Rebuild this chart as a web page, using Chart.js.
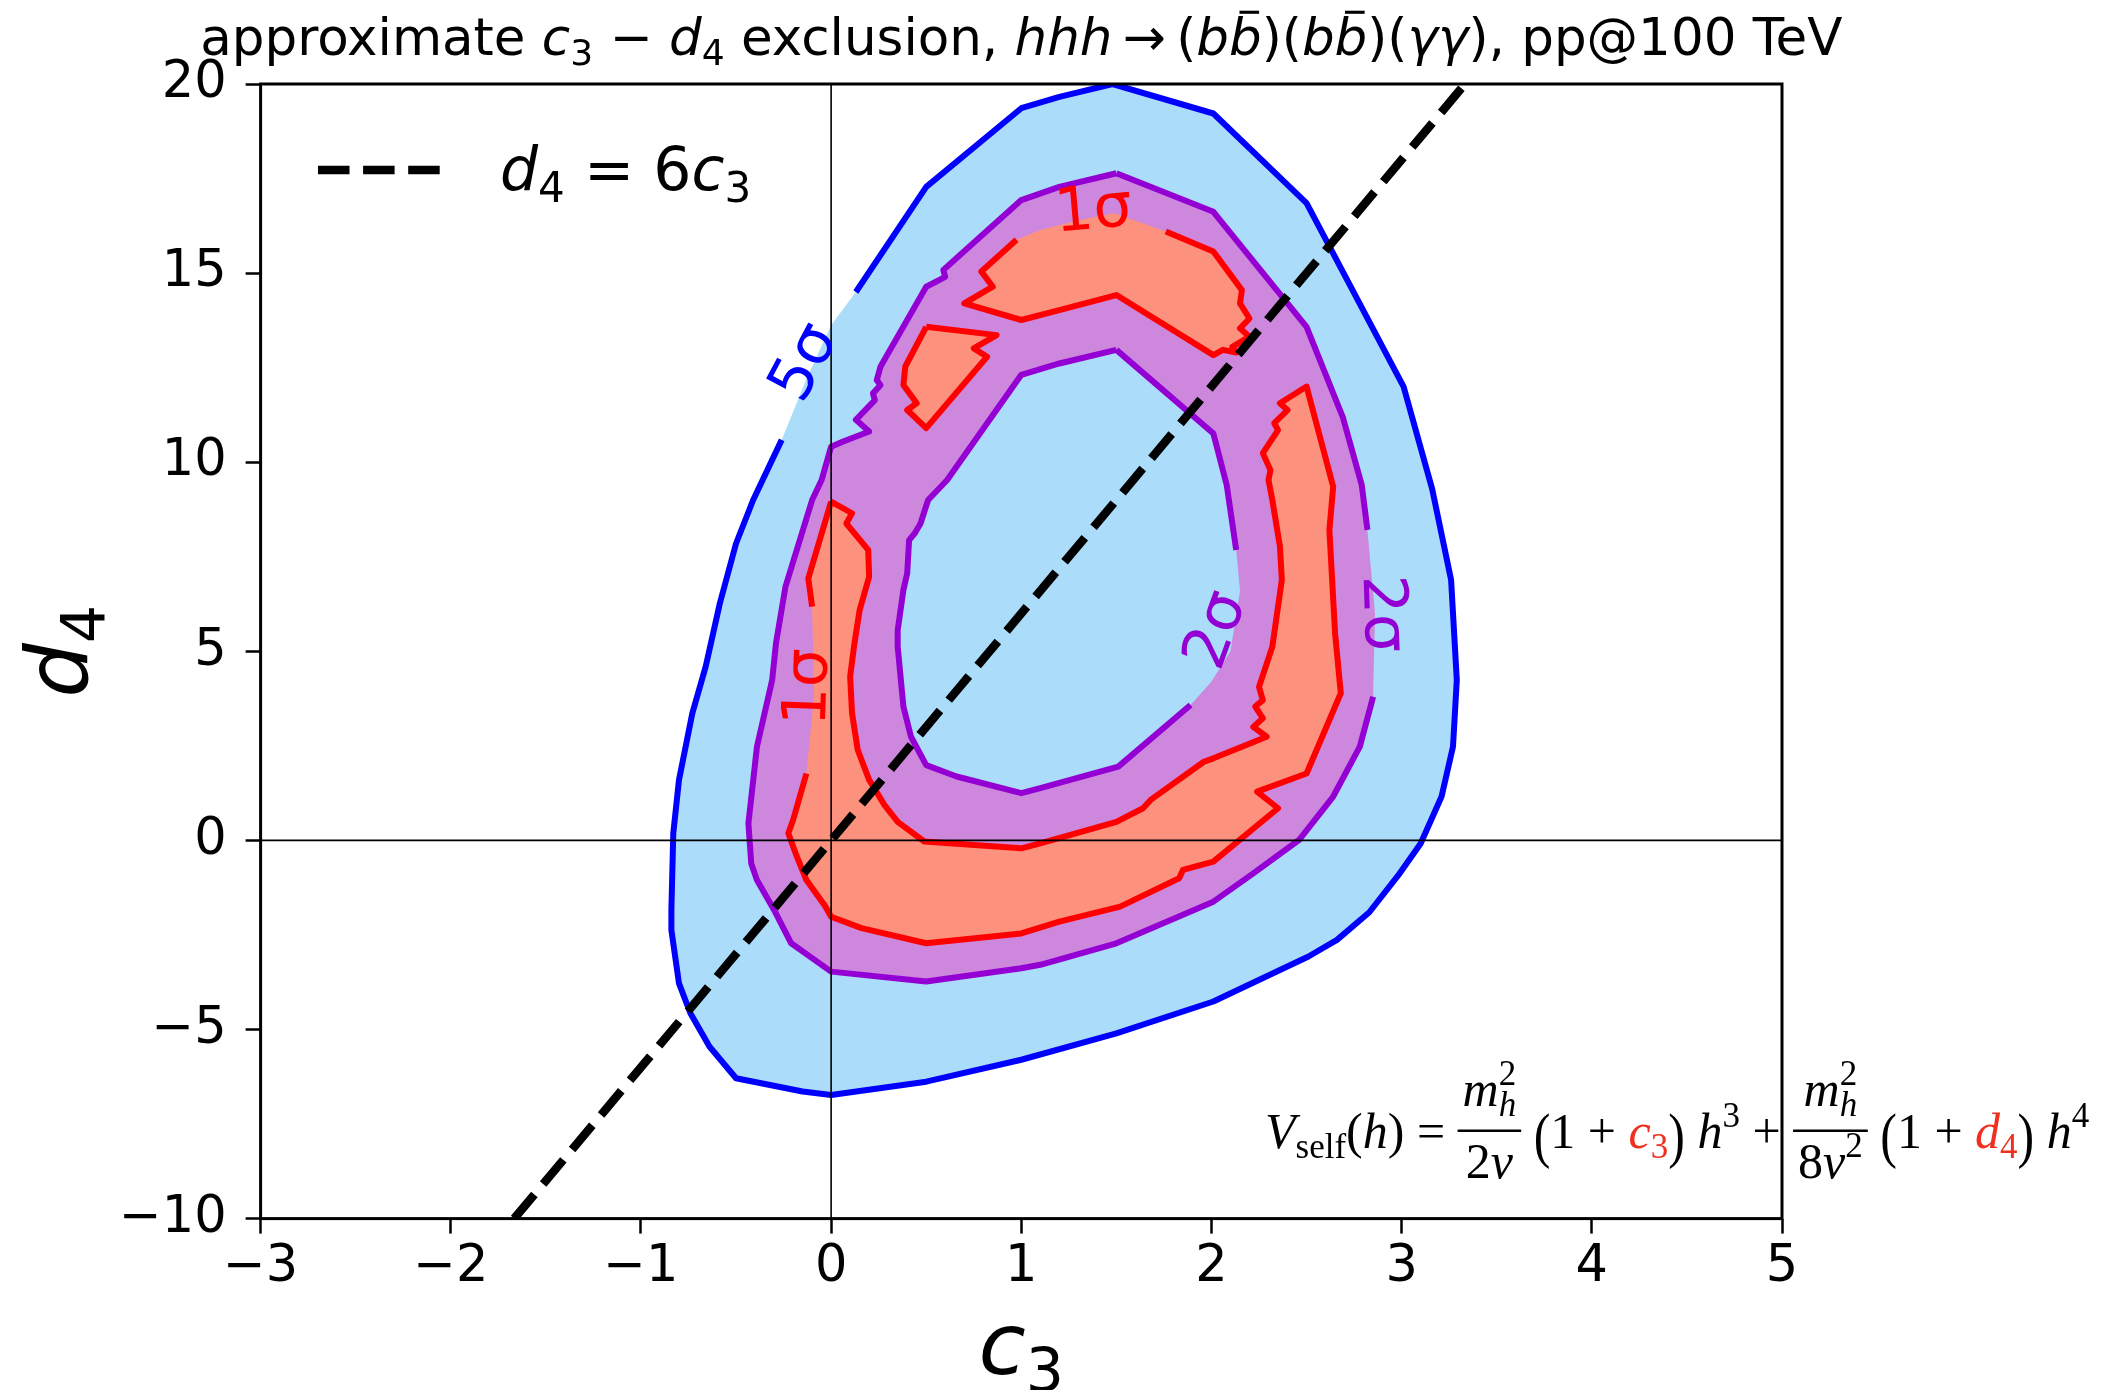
<!DOCTYPE html>
<html>
<head>
<meta charset="utf-8">
<title>c3 - d4 exclusion</title>
<script src="https://cdn.jsdelivr.net/npm/chart.js@4.4.1/dist/chart.umd.min.js"></script>
<style>
  html, body { margin: 0; padding: 0; background: #fff; }
  canvas { display: block; }
</style>
</head>
<body>
<canvas id="chart" width="2128" height="1390"></canvas>
<script>
// axis ticks
const c3Ticks = [-3, -2, -1, 0, 1, 2, 3, 4, 5];
const d4Ticks = [-10, -5, 0, 5, 10, 15, 20];

// 5 sigma contour (closed, starts at the top)
const sig5C3 = [1.48, 2.01, 2.50, 3.01, 3.16, 3.26, 3.29, 3.27, 3.21, 3.10,
                2.99, 2.83, 2.66, 2.51, 2.01, 1.50, 1.00, 0.50, 0.00, -0.15,
                -0.50, -0.64, -0.74, -0.80, -0.84, -0.84, -0.83, -0.80, -0.73, -0.66,
                -0.585, -0.50, -0.41, -0.26, -0.13, 0.00, 0.13, 0.50, 1.00, 1.20,
                1.48];
const sig5D4 = [20.0, 19.22, 16.85, 12.00, 9.30, 6.89, 4.24, 2.48, 1.16, -0.08,
                -0.87, -1.90, -2.63, -3.07, -4.26, -5.10, -5.80, -6.38, -6.73, -6.64,
                -6.29, -5.45, -4.57, -3.78, -2.37, -1.84, 0.19, 1.60, 3.36, 4.59,
                6.27, 7.85, 9.00, 10.59, 12.20, 13.62, 14.50, 17.28, 19.36, 19.66,
                20.0];

// 2 sigma contour, outer boundary
const sig2C3 = [1.50, 2.01, 2.50, 2.69, 2.79, 2.82, 2.86, 2.85, 2.78, 2.64,
                2.46, 2.22, 2.01, 1.50, 1.10, 1.00, 0.50, 0.00, -0.21, -0.30,
                -0.39, -0.42, -0.435, -0.39, -0.31, -0.29, -0.24, -0.10, -0.05, 0.00,
                0.06, 0.20, 0.13, 0.23, 0.22, 0.26, 0.24, 0.26, 0.50, 0.60,
                0.59, 1.00, 1.20, 1.50];
const sig2D4 = [17.64, 16.62, 13.58, 11.20, 9.40, 8.21, 6.00, 3.80, 2.48, 1.16,
                0.01, -0.87, -1.62, -2.72, -3.29, -3.38, -3.73, -3.47, -2.72, -1.84,
                -1.05, -0.61, 0.45, 2.48, 4.24, 5.21, 6.71, 9.00, 9.53, 10.41,
                10.54, 10.81, 11.12, 11.64, 11.82, 12.04, 12.17, 12.53, 14.64, 14.90,
                15.08, 16.93, 17.28, 17.64];

// 2 sigma contour, inner boundary
const holeC3 = [1.50, 2.01, 2.08, 2.13, 2.15, 2.10, 2.00, 1.89, 1.51, 1.10,
                1.00, 0.66, 0.50, 0.42, 0.38, 0.35, 0.35, 0.38, 0.40, 0.41,
                0.44, 0.47, 0.51, 0.61, 1.00, 1.20, 1.50];
const holeD4 = [12.97, 10.76, 9.40, 7.68, 6.60, 5.00, 4.20, 3.58, 1.95, 1.38,
                1.25, 1.69, 1.99, 2.74, 3.54, 5.12, 5.56, 6.62, 7.06, 7.94,
                8.12, 8.38, 9.00, 9.53, 12.31, 12.61, 12.97];

// 1 sigma: the large open ring (left, bottom and right arms)
const ringC3 = [0.00, -0.12, -0.10, -0.095, -0.09, -0.12, -0.13, -0.20, -0.225, -0.18,
                -0.13, -0.03, 0.00, 0.16, 0.50, 1.00, 1.20, 1.52, 1.83, 1.85,
                2.01, 2.35, 2.24, 2.50, 2.68, 2.65, 2.62, 2.64, 2.50, 2.36,
                2.40, 2.33, 2.35, 2.27, 2.31, 2.30, 2.32, 2.36, 2.37, 2.32,
                2.25, 2.27, 2.23, 2.27, 2.22, 2.29, 2.01, 1.96, 1.68, 1.64,
                1.50, 1.10, 1.00, 0.49, 0.35, 0.28, 0.20, 0.14, 0.11, 0.10,
                0.12, 0.15, 0.20, 0.195, 0.08, 0.11, 0.00];
const ringD4 = [8.96, 6.93, 6.18, 5.12, 3.80, 2.30, 1.77, 0.54, 0.19, -0.43,
                -1.05, -1.75, -2.02, -2.32, -2.72, -2.46, -2.15, -1.75, -1.00, -0.78,
                -0.56, 0.85, 1.29, 1.77, 3.89, 5.47, 8.21, 9.35, 12.00, 11.56,
                11.38, 11.03, 10.85, 10.24, 9.79, 9.53, 9.00, 7.77, 6.89, 5.12,
                4.06, 3.71, 3.54, 3.23, 3.00, 2.74, 2.17, 2.08, 1.07, 0.85,
                0.49, -0.08, -0.21, -0.03, 0.49, 0.94, 1.60, 2.39, 3.36, 4.33,
                5.12, 6.09, 6.97, 7.68, 8.38, 8.65, 8.96];

// 1 sigma: upper arc
const arcC3 = [0.975, 1.10, 1.30, 1.49, 1.76, 2.01, 2.16, 2.15, 2.20, 2.15,
               2.20, 2.11, 2.13, 2.06, 2.01, 1.50, 1.20, 1.00, 0.70, 0.85,
               0.79, 0.975];
const arcD4 = [15.88, 16.14, 16.40, 16.58, 16.10, 15.57, 14.55, 14.20, 13.80, 13.54,
               13.32, 13.05, 12.90, 12.97, 12.83, 14.42, 14.02, 13.76, 14.20, 14.64,
               15.04, 15.88];

// 1 sigma: small island
const isleC3 = [0.50, 0.87, 0.75, 0.82, 0.50, 0.40, 0.45, 0.38, 0.39, 0.50];
const isleD4 = [13.58, 13.36, 13.01, 12.79, 10.90, 11.38, 11.56, 12.04, 12.53, 13.58];

// d4 = 6 c3 reference line
const ratioC3 = [-1.6667, 3.3333];
const ratioD4 = [-10, 20];

// inline contour labels
const labelText = ['5\u03c3', '1\u03c3', '1\u03c3', '2\u03c3', '2\u03c3'];
const labelC3 = [-0.13, 1.38, -0.11, 2.035, 2.89];
const labelD4 = [12.61, 16.60, 4.05, 5.54, 5.99];

const BLUE = '#0000ff', PURPLE = '#9400d3', RED = '#ff0000';
const SKY = '#abdcfa', ORCHID = '#cd88dd', SALMON = '#fc917e';
const SANS = "'DejaVu Sans'", SERIF = "'Liberation Serif'";
const labelAngle = [-62, -5, -88, -70, 88];
const labelColor = [BLUE, RED, RED, PURPLE, PURPLE];

const pts = (xs, ys) => xs.map((v, i) => ({ x: v, y: ys[i] }));
const fmt = v => (v < 0 ? '\u2212' + Math.abs(v) : String(v));

function area(xs, ys, color) {
  return { data: pts(xs, ys), fill: 'shape', backgroundColor: color, borderWidth: 0, pointRadius: 0 };
}

// contour line, with the segments [from, to) left out where a label sits
function edge(xs, ys, color, from, to) {
  return {
    data: pts(xs, ys), fill: false, borderColor: color, borderWidth: 6,
    borderJoinStyle: 'round', pointRadius: 0,
    segment: {
      borderColor: c => (c.p0DataIndex >= from && c.p0DataIndex < to ? 'rgba(0,0,0,0)' : undefined)
    }
  };
}

const datasets = [
  area(sig5C3, sig5D4, SKY),
  area(sig2C3, sig2D4, ORCHID),
  area(holeC3, holeD4, SKY),
  area(ringC3, ringD4, SALMON),
  area(arcC3, arcD4, SALMON),
  area(isleC3, isleD4, SALMON),
  edge(sig5C3, sig5D4, BLUE, 33, 36),
  edge(sig2C3, sig2D4, PURPLE, 5, 7),
  edge(holeC3, holeD4, PURPLE, 3, 7),
  edge(ringC3, ringD4, RED, 2, 6),
  edge(arcC3, arcD4, RED, 0, 4),
  edge(isleC3, isleD4, RED, 0, 0),
  { data: pts([-3, 5], [0, 0]), borderColor: '#000', borderWidth: 1.6, pointRadius: 0, fill: false },
  { data: pts([0, 0], [-10, 20]), borderColor: '#000', borderWidth: 1.6, pointRadius: 0, fill: false },
  { data: pts(ratioC3, ratioD4), borderColor: '#000', borderWidth: 8.5, borderDash: [31.5, 13.6],
    pointRadius: 0, fill: false }
];
// first entry at the bottom
datasets.forEach((d, i) => { d.order = datasets.length - i; });

// draws a list of text runs (italic, sub/superscript, fractions); returns the width
function runs(ctx, items, x, y, size, family, draw) {
  let cx = x, lastW = 0;
  for (const r of items) {
    if (r.frac) {
      const [num, den] = r.frac;
      const nw = runs(ctx, num, 0, 0, size, family, false);
      const dw = runs(ctx, den, 0, 0, size, family, false);
      const fw = Math.max(nw, dw) + size * 0.2;
      if (draw) {
        runs(ctx, num, cx + (fw - nw) / 2, y - size * 0.84, size, family, true);
        runs(ctx, den, cx + (fw - dw) / 2, y + size * 0.6, size, family, true);
        ctx.fillStyle = '#000';
        ctx.fillRect(cx, y - size * 0.37, fw, Math.max(2, size * 0.05));
      }
      cx += fw;
      lastW = fw;
      continue;
    }
    const small = r.sub || r.sup;
    const s = size * (small ? 0.7 : (r.big || 1));
    ctx.font = (r.it ? 'italic ' : '') + s.toFixed(1) + 'px ' + family;
    const w = ctx.measureText(r.t).width;
    const dy = r.sub ? size * 0.2 : r.sup ? -size * 0.42 : (r.dy || 0) * size;
    const px = r.stack ? cx - lastW : cx;
    if (draw) {
      ctx.fillStyle = r.color || '#000';
      if (r.tall) {
        // stretched delimiter
        ctx.save();
        ctx.translate(px, y + dy);
        ctx.scale(1, r.tall);
        ctx.fillText(r.t, 0, 0);
        ctx.restore();
      } else {
        ctx.fillText(r.t, px, y + dy);
      }
      if (r.bar) ctx.fillRect(px + w * 0.32, y - size * 0.86, w * 0.6, size * 0.06);
    }
    cx = r.stack ? px + Math.max(w, lastW) : cx + w;
    lastW = w;
  }
  return cx - x;
}

const titleRuns = [
  { t: 'approximate ' }, { t: 'c', it: true }, { t: '3', sub: true }, { t: ' \u2212 ' },
  { t: 'd', it: true }, { t: '4', sub: true }, { t: ' exclusion, ' }, { t: 'hhh', it: true },
  { t: '\u2009\u2192\u2009' }, { t: '(' }, { t: 'b', it: true }, { t: 'b', it: true, bar: true },
  { t: ')(' }, { t: 'b', it: true }, { t: 'b', it: true, bar: true }, { t: ')(' },
  { t: '\u03b3\u03b3', it: true }, { t: '), pp@100 TeV' }
];

const legendRuns = [
  { t: 'd', it: true }, { t: '4', sub: true }, { t: ' = ' }, { t: '6' }, { t: 'c', it: true }, { t: '3', sub: true }
];

const FORMULA_RED = '#f0301e';
const mh2 = [{ t: 'm', it: true }, { t: 'h', it: true, sub: true }, { t: '2', sup: true, stack: true }];
const lp = { t: '(', tall: 1.22, dy: 0.16 }, rp = { t: ')', tall: 1.22, dy: 0.16 };
const formulaRuns = [
  { t: 'V', it: true }, { t: 'self', sub: true }, { t: '(' }, { t: 'h', it: true }, { t: ')' }, { t: ' = ' },
  { frac: [mh2, [{ t: '2' }, { t: 'v', it: true }]] },
  { t: ' ' }, lp, { t: '1 + ' },
  { t: 'c', it: true, color: FORMULA_RED }, { t: '3', sub: true, color: FORMULA_RED },
  rp, { t: ' ' }, { t: 'h', it: true }, { t: '3', sup: true }, { t: ' + ' },
  { frac: [mh2, [{ t: '8' }, { t: 'v', it: true }, { t: '2', sup: true }]] },
  { t: ' ' }, lp, { t: '1 + ' },
  { t: 'd', it: true, color: FORMULA_RED }, { t: '4', sub: true, color: FORMULA_RED },
  rp, { t: ' ' }, { t: 'h', it: true }, { t: '4', sup: true }
];

const decorations = {
  id: 'decorations',
  afterDatasetsDraw(chart) {
    const { ctx, chartArea: a, scales: { x, y } } = chart;
    ctx.save();
    ctx.textAlign = 'center';
    ctx.textBaseline = 'middle';
    ctx.font = '61px ' + SANS;
    labelText.forEach((t, i) => {
      ctx.save();
      ctx.translate(x.getPixelForValue(labelC3[i]), y.getPixelForValue(labelD4[i]));
      ctx.rotate(labelAngle[i] * Math.PI / 180);
      ctx.fillStyle = labelColor[i];
      ctx.fillText(t, 0, 0);
      ctx.restore();
    });
    ctx.restore();

    // frame
    ctx.save();
    ctx.strokeStyle = '#000';
    ctx.lineWidth = 3;
    ctx.strokeRect(a.left, a.top, a.right - a.left, a.bottom - a.top);
    ctx.restore();
  },
  afterDraw(chart) {
    const { ctx, chartArea: a } = chart;
    const cx = (a.left + a.right) / 2, cy = (a.top + a.bottom) / 2;
    ctx.save();
    ctx.textAlign = 'left';
    ctx.textBaseline = 'alphabetic';

    // title
    const tw = runs(ctx, titleRuns, 0, 0, 51.5, SANS, false);
    runs(ctx, titleRuns, cx - tw / 2, 55, 51.5, SANS, true);

    // axis titles
    const xw = runs(ctx, [{ t: 'c', it: true }, { t: '3', sub: true }], 0, 0, 86, SANS, false);
    runs(ctx, [{ t: 'c', it: true }, { t: '3', sub: true }], cx - xw / 2, 1374, 86, SANS, true);
    ctx.save();
    ctx.translate(87, cy);
    ctx.rotate(-Math.PI / 2);
    const yw = runs(ctx, [{ t: 'd', it: true }, { t: '4', sub: true }], 0, 0, 86, SANS, false);
    runs(ctx, [{ t: 'd', it: true }, { t: '4', sub: true }], -yw / 2, 0, 86, SANS, true);
    ctx.restore();

    // legend
    ctx.save();
    ctx.strokeStyle = '#000';
    ctx.lineWidth = 8.5;
    ctx.setLineDash([31.5, 13.6]);
    ctx.beginPath();
    ctx.moveTo(318, 170);
    ctx.lineTo(440, 170);
    ctx.stroke();
    ctx.restore();
    runs(ctx, legendRuns, 500, 190, 60, SANS, true);

    // potential
    runs(ctx, formulaRuns, 1265, 1148, 50, SERIF, true);
    ctx.restore();
  }
};

Chart.defaults.font.family = SANS;
Chart.defaults.color = '#000';

new Chart(document.getElementById('chart'), {
  type: 'line',
  data: { datasets },
  options: {
    responsive: false,
    devicePixelRatio: 1,
    animation: false,
    layout: { padding: { top: 84, right: 346, left: 0, bottom: 0 } },
    elements: { line: { tension: 0 }, point: { radius: 0 } },
    plugins: { legend: { display: false }, tooltip: { enabled: false } },
    scales: {
      x: {
        type: 'linear', min: -3, max: 5,
        afterFit: s => { s.height = 171.4; },
        afterBuildTicks: s => { s.ticks = c3Ticks.map(v => ({ value: v })); },
        border: { display: false },
        grid: { drawOnChartArea: false, tickLength: 15, tickWidth: 2.5, tickColor: '#000' },
        ticks: { color: '#000', font: { size: 51 }, padding: 4, autoSkip: false, maxRotation: 0, callback: fmt }
      },
      y: {
        type: 'linear', min: -10, max: 20,
        afterFit: s => { s.width = 260.6; },
        afterBuildTicks: s => { s.ticks = d4Ticks.map(v => ({ value: v })); },
        border: { display: false },
        grid: { drawOnChartArea: false, tickLength: 15, tickWidth: 2.5, tickColor: '#000' },
        ticks: { color: '#000', font: { size: 51 }, padding: 19, autoSkip: false, callback: fmt }
      }
    }
  },
  plugins: [decorations]
});
</script>
</body>
</html>
